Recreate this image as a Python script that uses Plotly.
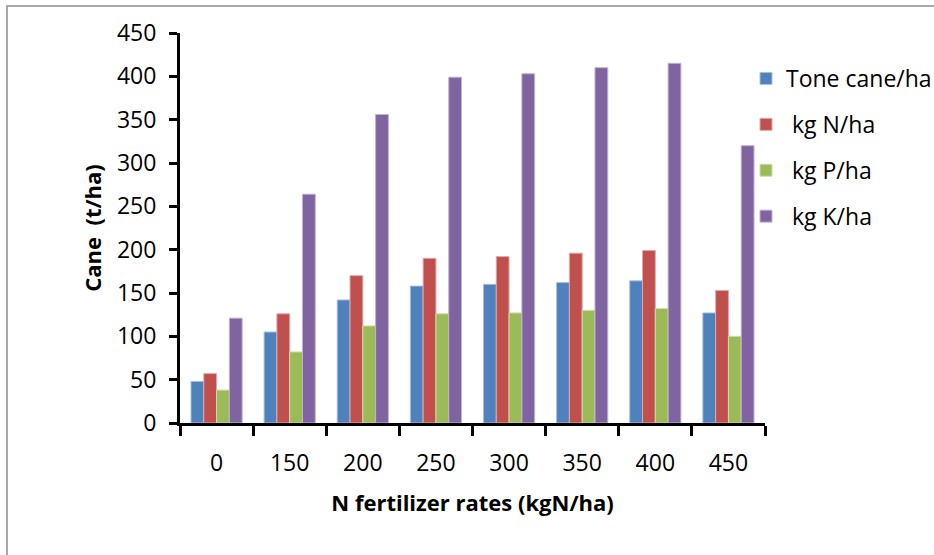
import plotly.graph_objects as go

# N fertilizer rate categories (kg N/ha)
rates = ["0", "150", "200", "250", "300", "350", "400", "450"]

# Cane yield and nutrient uptake per rate
tone_cane = [48, 105, 142, 158, 160, 162, 164, 127]
kg_n = [57, 126, 170, 190, 192, 196, 199, 153]
kg_p = [38, 82, 112, 126, 127, 130, 132, 100]
kg_k = [121, 264, 356, 399, 403, 410, 415, 320]

series_names = ["Tone cane/ha", " kg N/ha", " kg P/ha", " kg K/ha"]
series_values = [tone_cane, kg_n, kg_p, kg_k]
fill_colors = ["#4F81BD", "#C0504D", "#9BBB59", "#8064A2"]
edge_colors = ["#A7C0DE", "#E0A8A6", "#CDDDAC", "#C0B2D1"]

FONT = "Open Sans"

fig = go.Figure()
for i, (name, vals) in enumerate(zip(series_names, series_values)):
    fig.add_trace(go.Bar(
        x=rates, y=vals, name=name, legendgroup=f"g{i}",
        marker=dict(color=fill_colors[i], line=dict(color=edge_colors[i], width=1)),
    ))

# Plot area spans pixels x 180..765, y 33..423 of the 934x555 page
L, R, T, B = 180, 934 - 765, 33, 555 - 423
pw, ph = 934 - L - R, 555 - T - B

def px_x(p):
    return (p - L) / pw

def px_y(p):
    return (555 - B - p) / ph

fig.update_layout(
    width=934, height=555,
    margin=dict(l=L, r=R, t=T, b=B, pad=0, autoexpand=False),
    paper_bgcolor="white", plot_bgcolor="white",
    barmode="group", bargap=0.30, bargroupgap=0.0,
    font=dict(family=FONT, size=23, color="black"),
    showlegend=True,
    legend=dict(
        x=px_x(746), y=px_y(57), xanchor="left", yanchor="top",
        font=dict(family=FONT, size=23, color="black"),
        tracegroupgap=13, bgcolor="rgba(0,0,0,0)", borderwidth=0,
    ),
    xaxis=dict(
        type="category", showgrid=False, zeroline=False,
        showline=True, linecolor="black", linewidth=3,
        ticks="outside", tickson="boundaries", ticklen=10, tickwidth=3, tickcolor="black",
        tickfont=dict(family=FONT, size=23, color="black"),
        ticklabelstandoff=17,
        title=dict(text="<b>N fertilizer rates (kgN/ha)</b>",
                   font=dict(family=FONT, size=22, color="black"), standoff=20),
    ),
    yaxis=dict(
        range=[0, 450], tick0=0, dtick=50, showgrid=False, zeroline=False,
        showline=True, linecolor="black", linewidth=3,
        ticks="outside", ticklen=8, tickwidth=3, tickcolor="black",
        tickfont=dict(family=FONT, size=23, color="black"),
        ticklabelstandoff=8,
        title=dict(text="<b>Cane  (t/ha)</b>",
                   font=dict(family=FONT, size=22, color="black"), standoff=10),
    ),
    shapes=[dict(
        type="rect", xref="paper", yref="paper", layer="below",
        x0=px_x(7), x1=px_x(1200), y0=px_y(900), y1=px_y(6),
        line=dict(color="#8C8C8C", width=1.5), fillcolor="rgba(0,0,0,0)",
    )],
)

fig.write_html("out.html")
